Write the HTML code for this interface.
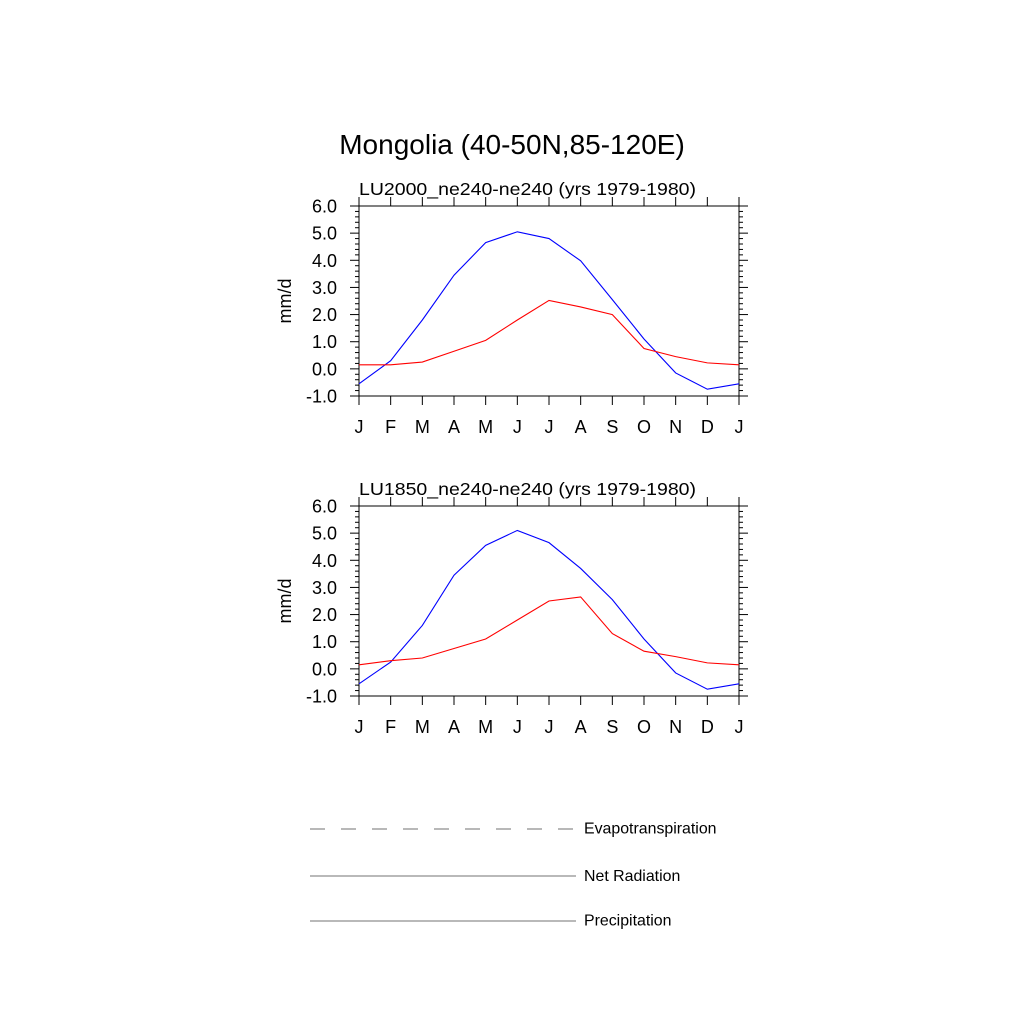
<!DOCTYPE html>
<html><head><meta charset="utf-8"><style>
body{margin:0;background:#fff;}
text{font-family:"Liberation Sans",sans-serif;fill:#000;}
</style></head><body>
<svg width="1024" height="1024" viewBox="0 0 1024 1024">
<text x="512" y="154" font-size="28" text-anchor="middle">Mongolia (40-50N,85-120E)</text>
<g id="plots"></g>
<g>
<line x1="310" y1="829" x2="576" y2="829" stroke="#444" stroke-width="0.8" stroke-dasharray="15,16"/>
<text x="584" y="833.5" font-size="15.9">Evapotranspiration</text>
<line x1="310" y1="876" x2="576" y2="876" stroke="#444" stroke-width="0.8"/>
<text x="584" y="881" font-size="15.9">Net Radiation</text>
<line x1="310" y1="921" x2="576" y2="921" stroke="#444" stroke-width="0.8"/>
<text x="584" y="925.5" font-size="15.9">Precipitation</text>
</g>
</svg>
<script>
const months = ["J","F","M","A","M","J","J","A","S","O","N","D","J"];
const yTicks = [-1,0,1,2,3,4,5,6];
const yTickLabels = ["-1.0","0.0","1.0","2.0","3.0","4.0","5.0","6.0"];
const panelTitles = ["LU2000_ne240-ne240 (yrs 1979-1980)","LU1850_ne240-ne240 (yrs 1979-1980)"];
const netRad2000 = [-0.55,0.3,1.8,3.45,4.65,5.05,4.8,3.98,2.55,1.1,-0.15,-0.75,-0.55];
const precip2000 = [0.15,0.15,0.25,0.65,1.05,1.8,2.52,2.28,2.0,0.75,0.45,0.22,0.15];
const netRad1850 = [-0.55,0.25,1.6,3.45,4.55,5.1,4.65,3.7,2.55,1.1,-0.15,-0.75,-0.55];
const precip1850 = [0.15,0.3,0.4,0.75,1.1,1.8,2.5,2.65,1.3,0.65,0.45,0.22,0.15];
const seriesSets = [[netRad2000,precip2000],[netRad1850,precip1850]];
const NS="http://www.w3.org/2000/svg";
const root=document.getElementById('plots');
function mk(t,a,p){const e=document.createElementNS(NS,t);for(const k in a)e.setAttribute(k,a[k]);p.appendChild(e);return e;}
const L=359,R=739,H=190,tops=[206,506],yMin=-1,yMax=6;
tops.forEach((T,pi)=>{
  const g=mk('g',{},root);
  
  
  const xs=i=>L+(R-L)*i/(months.length-1);
  const ys=v=>T+H-(v-yMin)/(yMax-yMin)*H;
  const t=mk('text',{x:L,y:T-11,'font-size':17.5,'text-anchor':'start',textLength:337,lengthAdjust:'spacingAndGlyphs'},g);t.textContent=panelTitles[pi];
  
  
  const yl=mk('text',{x:0,y:0,'font-size':18,'text-anchor':'middle',transform:`translate(291,${T+H/2}) rotate(-90)`},g);yl.textContent='mm/d';
  
  
  for(let v=yMin;v<=yMax+1e-9;v+=0.2){
    const major=Math.abs(v-Math.round(v))<1e-6;const len=major?9:4;const y=ys(v);
    mk('line',{x1:L-len,x2:L,y1:y,y2:y,stroke:'#000','stroke-width':1},g);
    mk('line',{x1:R,x2:R+len,y1:y,y2:y,stroke:'#000','stroke-width':1},g);
  }
  yTicks.forEach((v,i)=>{const tx=mk('text',{x:L-22,y:ys(v)+6.5,'font-size':18,'text-anchor':'end'},g);tx.textContent=yTickLabels[i];
    
    });
  months.forEach((m,i)=>{const x=xs(i);
    mk('line',{x1:x,x2:x,y1:T-9,y2:T,stroke:'#000','stroke-width':1},g);
    mk('line',{x1:x,x2:x,y1:T+H,y2:T+H+9,stroke:'#000','stroke-width':1},g);
    const tx=mk('text',{x:x,y:T+H+37,'font-size':18,'text-anchor':'middle'},g);tx.textContent=m;
    
    });
  const fr=mk('rect',{x:L,y:T,width:R-L,height:H,fill:'none',stroke:'#000','stroke-width':1},g);
  
  
  const cols=['#0000ff','#ff0000'],names=['net-radiation-line','precipitation-line'];
  seriesSets[pi].forEach((s,si)=>{
    const p=mk('polyline',{points:s.map((v,i)=>xs(i)+','+ys(v)).join(' '),fill:'none',stroke:cols[si],'stroke-width':1.1},g);
    
    
  });
});
</script>
</body></html>
